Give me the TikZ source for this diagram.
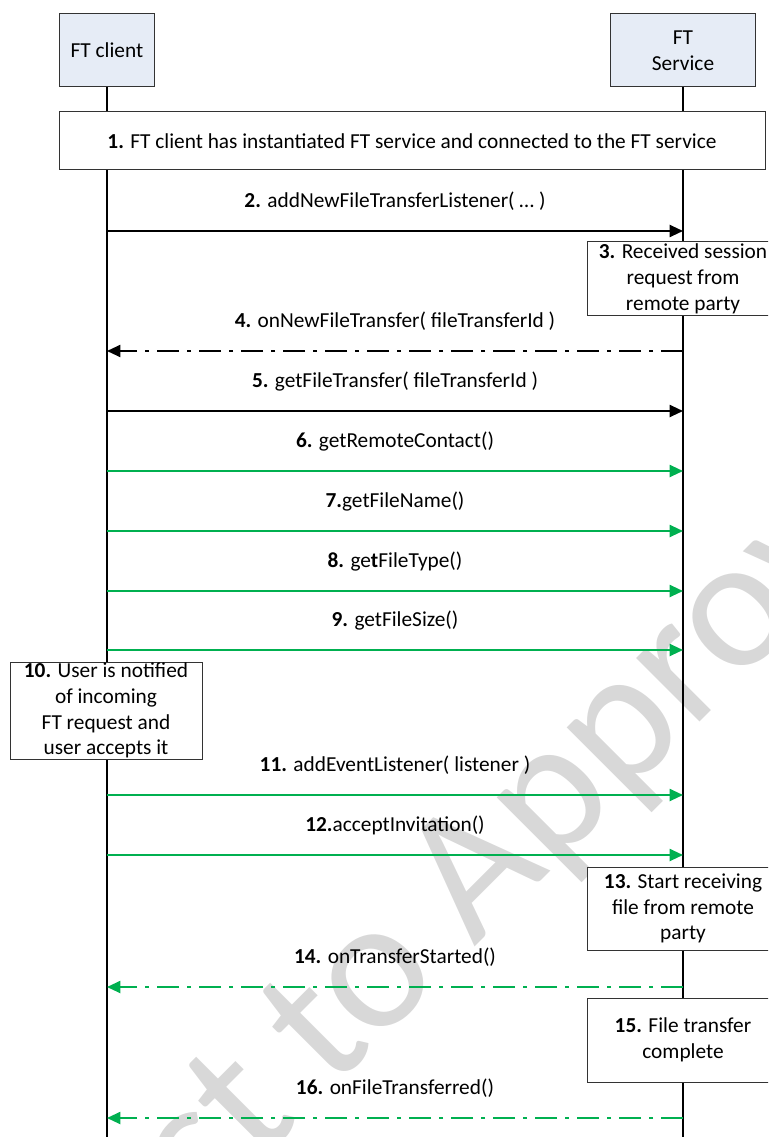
\documentclass[tikz,border=0pt]{standalone}
\usepackage{fontspec}
\setmainfont{Carlito}
\usetikzlibrary{arrows.meta}
\definecolor{okgreen}{RGB}{0,176,80}
\definecolor{partfill}{RGB}{230,236,246}
\definecolor{wmark}{RGB}{216,216,216}

\begin{document}
\begin{tikzpicture}[x=0.75pt,y=-0.75pt,
  every node/.style={font=\fontsize{16}{19.4}\selectfont},
  participant/.style={draw=black!80, line width=0.75pt, fill=partfill, align=center, inner sep=0pt},
  note/.style={draw=black!80, line width=0.75pt, fill=white, align=center, inner sep=0pt},
  lifeline/.style={line width=1.1pt},
  call/.style={line width=1.5pt, -{Triangle[length=10pt,width=9pt]}},
  reply/.style={line width=1.5pt, dash pattern=on 16.5pt off 6pt on 3pt off 6pt, -{Triangle[length=10pt,width=9pt]}},
  lbl/.style={midway, anchor=base, yshift=17.3pt, inner sep=0pt}
]
\useasboundingbox (0,0) rectangle (768,1137);
\clip (0,0) rectangle (768,1137);

% watermark behind everything
\node[rotate=45, anchor=base, text=wmark, inner sep=0pt,
      font=\fontsize{141}{141}\selectfont] (wm) at (430,992) {Subject to Approval};

% participants
\node[participant, minimum width=71.25pt, minimum height=54.75pt] (client) at (107,50.5) {FT client};
\node[participant, minimum width=108.75pt, minimum height=54.75pt] (service) at (683,50.5) {FT\\Service};

% lifelines
\coordinate (clientbot) at (107,1137);
\coordinate (servicebot) at (683,1137);
\draw[lifeline] (client.south) -- (clientbot);
\draw[lifeline] (service.south) -- (servicebot);

% step 1
\node[note, minimum width=529.5pt, minimum height=43.5pt] (setup) at (412,141)
  {\textbf{1.} FT client has instantiated FT service and connected to the FT service};

% message anchors on the lifelines
\foreach \n/\y in {2/231, 4/351, 5/411, 6/471, 7/531, 8/591, 9/650, 11/795, 12/855, 14/987, 16/1118} {
  \coordinate (c\n) at (107,\y);
  \coordinate (s\n) at (683,\y);
}

\draw[call] (c2) -- (s2) node[lbl] {\textbf{2.} addNewFileTransferListener( \ldots\ )};

\node[note, minimum width=144pt, minimum height=54.75pt] (recv) at (683,278.5)
  {\textbf{3.} Received session\\request from\\remote party};

\draw[reply] (s4) -- (c4) node[lbl] {\textbf{4.} onNewFileTransfer( fileTransferId )};
\draw[call] (c5) -- (s5) node[lbl] {\textbf{5.} getFileTransfer( fileTransferId )};
\draw[call, okgreen] (c6) -- (s6) node[lbl, text=black] {\textbf{6.} getRemoteContact()};
\draw[call, okgreen] (c7) -- (s7) node[lbl, text=black] {\textbf{7.}getFileName()};
\draw[call, okgreen] (c8) -- (s8) node[lbl, text=black] {\textbf{8.} ge\textbf{t}FileType()};
\draw[call, okgreen] (c9) -- (s9) node[lbl, text=black] {\textbf{9.} getFileSize()};

\node[note, minimum width=144pt, minimum height=72.75pt] (notify) at (106,710.5)
  {\textbf{10.} User is notified\\of incoming\\FT request and\\user accepts it};

\draw[call, okgreen] (c11) -- (s11) node[lbl, text=black] {\textbf{11.} addEventListener( listener )};
\draw[call, okgreen] (c12) -- (s12) node[lbl, text=black] {\textbf{12.}acceptInvitation()};

\node[note, minimum width=144pt, minimum height=62.25pt] (start) at (683,908.5)
  {\textbf{13.} Start receiving\\file from remote\\party};

\draw[reply, okgreen] (s14) -- (c14) node[lbl, text=black] {\textbf{14.} onTransferStarted()};

\node[note, minimum width=144pt, minimum height=63pt] (done) at (683,1040)
  {\textbf{15.} File transfer\\complete};

\draw[reply, okgreen] (s16) -- (c16) node[lbl, text=black] {\textbf{16.} onFileTransferred()};
\end{tikzpicture}
\end{document}
